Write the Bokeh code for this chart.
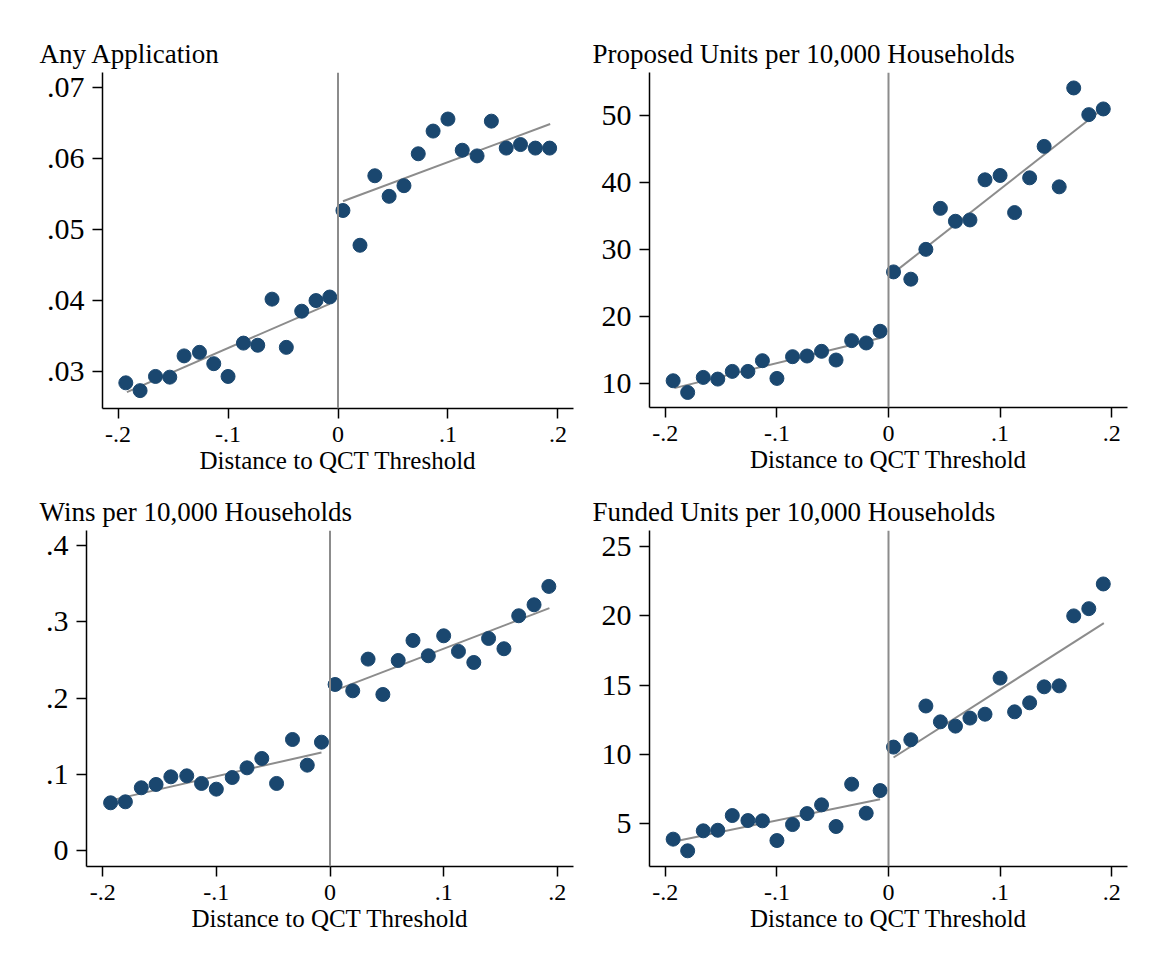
from bokeh.plotting import figure
from bokeh.models import Range1d, FixedTicker, Span
from bokeh.layouts import column, row
from bokeh.embed import file_html
from bokeh.resources import INLINE

FONT = "Liberation Serif"
NAVY = "#1a476f"
GRAY = "#8c8c8c"

# running variable bins (distance to QCT threshold)
x_left = [-0.193, -0.180, -0.166, -0.153, -0.140, -0.126, -0.113, -0.100,
          -0.086, -0.073, -0.060, -0.047, -0.033, -0.020, -0.0075]
x_right = [0.0045, 0.020, 0.0335, 0.0465, 0.060, 0.073, 0.0865, 0.100,
           0.113, 0.1265, 0.1395, 0.153, 0.166, 0.1795, 0.1925]
fit_x_left = [-0.192, -0.0075]
fit_x_right = [0.0045, 0.193]

x_ticks = [-0.2, -0.1, 0, 0.1, 0.2]
x_tick_labels = ["-.2", "-.1", "0", ".1", ".2"]
x_title = "Distance to QCT Threshold"

# Panel 1: Any Application
t1 = "Any Application"
y1_left = [0.0284, 0.0273, 0.0293, 0.0292, 0.0322, 0.0327, 0.0311, 0.0293,
           0.0340, 0.0337, 0.0402, 0.0334, 0.0385, 0.0400, 0.0405]
y1_right = [0.0527, 0.0478, 0.0576, 0.0547, 0.0562, 0.0607, 0.0639, 0.0656,
            0.0612, 0.0604, 0.0653, 0.0615, 0.0620, 0.0615, 0.0615]
fit1_left = [0.0271, 0.03954]
fit1_right = [0.0540, 0.0649]
y1_ticks = [0.03, 0.04, 0.05, 0.06, 0.07]
y1_labels = [".03", ".04", ".05", ".06", ".07"]

# Panel 2: Proposed Units per 10,000 Households
t2 = "Proposed Units per 10,000 Households"
y2_left = [10.35, 8.6, 10.85, 10.6, 11.75, 11.75, 13.35, 10.7, 13.95, 14.05,
           14.75, 13.45, 16.35, 16.0, 17.75]
y2_right = [26.63, 25.54, 30.0, 36.13, 34.2, 34.4, 40.4, 41.05, 35.5, 40.7,
            45.4, 39.35, 54.14, 50.15, 51.0]
fit2_left = [9.25, 16.73]
fit2_right = [26.48, 51.15]
y2_ticks = [10, 20, 30, 40, 50]
y2_labels = ["10", "20", "30", "40", "50"]

# Panel 3: Wins per 10,000 Households
t3 = "Wins per 10,000 Households"
y3_left = [0.0626, 0.0639, 0.0823, 0.0867, 0.0967, 0.098, 0.088, 0.0805,
           0.0958, 0.1085, 0.1208, 0.088, 0.1457, 0.112, 0.1422]
y3_right = [0.2179, 0.2096, 0.2512, 0.2048, 0.2494, 0.2757, 0.2556, 0.2818,
            0.2613, 0.2468, 0.2783, 0.2648, 0.3081, 0.3225, 0.3466]
fit3_left = [0.0661, 0.1287]
fit3_right = [0.2101, 0.3182]
y3_ticks = [0, 0.1, 0.2, 0.3, 0.4]
y3_labels = ["0", ".1", ".2", ".3", ".4"]

# Panel 4: Funded Units per 10,000 Households
t4 = "Funded Units per 10,000 Households"
y4_left = [3.9, 3.06, 4.5, 4.54, 5.6, 5.24, 5.22, 3.8, 4.95, 5.74, 6.37,
           4.81, 7.86, 5.77, 7.4]
y4_right = [10.53, 11.06, 13.49, 12.35, 12.04, 12.62, 12.9, 15.5, 13.07,
            13.72, 14.87, 14.94, 19.98, 20.5, 22.28]
fit4_left = [3.73, 6.78]
fit4_right = [9.78, 19.46]
y4_ticks = [5, 10, 15, 20, 25]
y4_labels = ["5", "10", "15", "20", "25"]


def make_panel(title, yl, yr, fl, fr, yticks, ylabels, yrange,
               fw, fh, bl, br, bt, bb, toff):
    p = figure(frame_width=fw, frame_height=fh,
               min_border_left=bl, min_border_right=br,
               min_border_top=bt, min_border_bottom=bb,
               x_range=Range1d(-0.2142, 0.2142), y_range=Range1d(*yrange),
               output_backend="svg", toolbar_location=None)
    p.background_fill_color = "white"
    p.border_fill_color = "white"
    p.outline_line_color = None
    p.xgrid.visible = False
    p.ygrid.visible = False

    p.title.text = title
    p.title.align = "left"
    p.title.offset = toff
    p.title.standoff = 7
    p.title.text_font = FONT
    p.title.text_font_size = "27px"
    p.title.text_font_style = "normal"
    p.title.text_color = "black"

    p.add_layout(Span(location=0, dimension="height", line_color=GRAY,
                      line_width=2))

    p.line(fit_x_left, fl, line_color=GRAY, line_width=2)
    p.line(fit_x_right, fr, line_color=GRAY, line_width=2)
    p.scatter(x_left, yl, size=14, fill_color=NAVY, line_color=NAVY)
    p.scatter(x_right, yr, size=14, fill_color=NAVY, line_color=NAVY)

    for ax in (p.xaxis[0], p.yaxis[0]):
        ax.axis_line_color = "black"
        ax.axis_line_width = 1.5
        ax.major_tick_line_color = "black"
        ax.major_tick_line_width = 1.5
        ax.major_tick_out = 10
        ax.major_tick_in = 0
        ax.minor_tick_line_color = None
        ax.major_label_text_font = FONT
        ax.major_label_text_color = "black"
        ax.major_label_standoff = 8

    xa = p.xaxis[0]
    xa.ticker = FixedTicker(ticks=x_ticks)
    xa.major_label_overrides = {k: v for k, v in zip(x_ticks, x_tick_labels)}
    xa.major_label_text_font_size = "24px"
    xa.axis_label = x_title
    xa.axis_label_text_font = FONT
    xa.axis_label_text_font_size = "25px"
    xa.axis_label_text_font_style = "normal"
    xa.axis_label_text_color = "black"
    xa.axis_label_standoff = 2

    ya = p.yaxis[0]
    ya.ticker = FixedTicker(ticks=yticks)
    ya.major_label_overrides = {k: v for k, v in zip(yticks, ylabels)}
    ya.major_label_text_font_size = "30px"
    ya.major_label_standoff = 8
    return p


p1 = make_panel(t1, y1_left, y1_right, fit1_left, fit1_right, y1_ticks,
                y1_labels, (0.02478, 0.07216), 471, 336, 102, 17, 71, 83, -63)
p2 = make_panel(t2, y2_left, y2_right, fit2_left, fit2_right, y2_ticks,
                y2_labels, (6.35, 56.45), 478, 335, 59, 14, 72, 83, -57)
p3 = make_panel(t3, y3_left, y3_right, fit3_left, fit3_right, y3_ticks,
                y3_labels, (-0.021, 0.42), 487, 336, 86, 17, 40, 85, -47)
p4 = make_panel(t4, y4_left, y4_right, fit4_left, fit4_right, y4_ticks,
                y4_labels, (1.93, 26.13), 478, 336, 59, 14, 40, 85, -57)

layout = column(row(p1, p2), row(p3, p4))
open("out.html", "w").write(file_html(layout, INLINE))
